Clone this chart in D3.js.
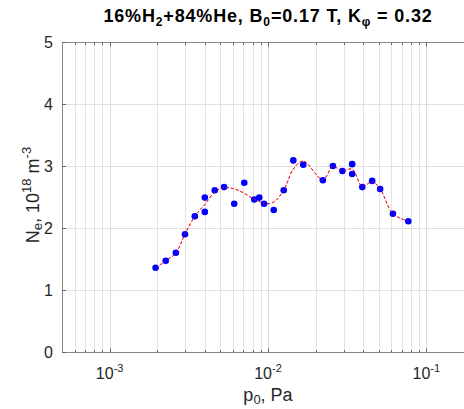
<!DOCTYPE html>
<html>
<head>
<meta charset="utf-8">
<script src="https://cdn.jsdelivr.net/npm/d3@7"></script>
<style>
  body { margin: 0; background: #fff; }
  text { font-family: 'Liberation Sans', Arial, sans-serif; }
</style>
</head>
<body>
<div id="chart"></div>
<script>
// measured points: pressure (Pa) and density (1e18 m^-3)
const pressure = [1.95e-3, 2.26e-3, 2.62e-3, 2.99e-3, 3.45e-3, 3.99e-3, 3.99e-3, 4.61e-3, 5.28e-3,
  6.12e-3, 7.08e-3, 8.19e-3, 8.81e-3, 9.44e-3, 1.087e-2, 1.257e-2, 1.445e-2, 1.67e-2, 2.22e-2,
  2.57e-2, 2.95e-2, 3.40e-2, 3.40e-2, 3.94e-2, 4.55e-2, 5.11e-2, 6.15e-2, 7.69e-2];
const density = [1.36, 1.47, 1.60, 1.90, 2.19, 2.26, 2.49, 2.61, 2.66,
  2.39, 2.73, 2.46, 2.49, 2.39, 2.29, 2.61, 3.09, 3.02, 2.77,
  3.00, 2.92, 3.03, 2.87, 2.66, 2.76, 2.63, 2.23, 2.11];

// smoothed fit (red dashed)
const fitPressure = [1.95e-3, 2.26e-3, 2.62e-3, 2.99e-3, 3.45e-3, 3.99e-3, 4.61e-3, 5.28e-3,
  6.12e-3, 7.08e-3, 8.19e-3, 8.81e-3, 9.44e-3, 1.087e-2, 1.257e-2, 1.445e-2, 1.67e-2, 2.22e-2,
  2.57e-2, 2.95e-2, 3.40e-2, 3.94e-2, 4.55e-2, 5.11e-2, 6.15e-2, 7.69e-2];
const fitDensity = [1.36, 1.47, 1.60, 1.90, 2.19, 2.38, 2.58, 2.65,
  2.63, 2.56, 2.46, 2.43, 2.39, 2.42, 2.61, 2.95, 3.08, 2.78,
  2.99, 2.92, 2.95, 2.67, 2.75, 2.63, 2.23, 2.11];

const yTicks = [0, 1, 2, 3, 4, 5];
const xMajor = [-3, -2, -1]; // exponents

const width = 464;
const height = 409;
const margin = { top: 42, left: 62, bottom: 57 };

const x = d3.scaleLog()
  .domain([5e-4, 0.2])
  .range([margin.left, 474]);

const y = d3.scaleLinear()
  .domain([0, 5])
  .range([height - margin.bottom, margin.top]);

const svg = d3.select('#chart')
  .append('svg')
  .attr('width', width)
  .attr('height', height);

const yTop = y(5);
const yBottom = y(0);
const xRight = x.range()[1];

const allTicks = x.ticks().filter(t => x(t) > margin.left + 0.5);
const isMajor = t => Math.abs(Math.log10(t) - Math.round(Math.log10(t))) < 1e-6;

// grid
svg.append('g')
  .selectAll('line')
  .data(allTicks)
  .enter()
  .append('line')
  .attr('x1', d => Math.round(x(d)) + 0.5)
  .attr('x2', d => Math.round(x(d)) + 0.5)
  .attr('y1', yTop)
  .attr('y2', yBottom)
  .attr('stroke', d => (isMajor(d) ? '#d9d9d9' : '#e3e3e3'))
  .attr('stroke-width', 1);

svg.append('g')
  .selectAll('line')
  .data(yTicks.slice(1, -1))
  .enter()
  .append('line')
  .attr('x1', margin.left)
  .attr('x2', xRight)
  .attr('y1', d => Math.round(y(d)) + 0.5)
  .attr('y2', d => Math.round(y(d)) + 0.5)
  .attr('stroke', '#e0e0e0');

// axes lines
const axisColor = '#8a8a8a';
svg.append('line')
  .attr('x1', margin.left).attr('x2', xRight)
  .attr('y1', yTop + 0.5).attr('y2', yTop + 0.5)
  .attr('stroke', axisColor);
svg.append('line')
  .attr('x1', margin.left).attr('x2', xRight)
  .attr('y1', yBottom + 0.5).attr('y2', yBottom + 0.5)
  .attr('stroke', axisColor);
svg.append('line')
  .attr('x1', margin.left + 0.5).attr('x2', margin.left + 0.5)
  .attr('y1', yTop).attr('y2', yBottom)
  .attr('stroke', axisColor);

// x tick marks, top and bottom, inside
[yTop, yBottom].forEach((base) => {
  const dir = base === yTop ? 1 : -1;
  svg.append('g')
    .selectAll('line')
    .data(allTicks)
    .enter()
    .append('line')
    .attr('x1', d => Math.round(x(d)) + 0.5)
    .attr('x2', d => Math.round(x(d)) + 0.5)
    .attr('y1', base + 0.5)
    .attr('y2', d => base + 0.5 + dir * (isMajor(d) ? 4 : 2.5))
    .attr('stroke', '#666');
});

// y tick marks
svg.append('g')
  .selectAll('line')
  .data(yTicks)
  .enter()
  .append('line')
  .attr('x1', margin.left)
  .attr('x2', margin.left + 4)
  .attr('y1', d => Math.round(y(d)) + 0.5)
  .attr('y2', d => Math.round(y(d)) + 0.5)
  .attr('stroke', '#666');

// y tick labels
svg.append('g')
  .selectAll('text')
  .data(yTicks)
  .enter()
  .append('text')
  .attr('x', margin.left - 9)
  .attr('y', d => y(d) + 6)
  .attr('text-anchor', 'end')
  .attr('font-size', '16px')
  .attr('fill', '#262626')
  .text(d => d);

// x tick labels
const xl = svg.append('g')
  .selectAll('text')
  .data(xMajor)
  .enter()
  .append('text')
  .attr('x', d => x(Math.pow(10, d)))
  .attr('y', 379)
  .attr('text-anchor', 'middle')
  .attr('font-size', '16px')
  .attr('fill', '#262626');
xl.append('tspan').text('10');
xl.append('tspan')
  .attr('dy', -7)
  .attr('font-size', '11px')
  .text(d => d);

// x label
const xt = svg.append('text')
  .attr('x', 268)
  .attr('y', 401)
  .attr('text-anchor', 'middle')
  .attr('font-size', '18px')
  .attr('fill', '#262626');
xt.append('tspan').text('p');
xt.append('tspan').attr('dy', 3).attr('font-size', '13px').text('0');
xt.append('tspan').attr('dy', -3).text(', Pa');

// y label
const yt = svg.append('text')
  .attr('transform', `translate(39, ${(yTop + yBottom) / 2 - 2}) rotate(-90)`)
  .attr('text-anchor', 'middle')
  .attr('font-size', '18px')
  .attr('fill', '#262626');
yt.append('tspan').text('N');
yt.append('tspan').attr('dy', 3).attr('font-size', '13px').text('e');
yt.append('tspan').attr('dy', -3).text(', 10');
yt.append('tspan').attr('dy', -8).attr('font-size', '13px').text('18');
yt.append('tspan').attr('dy', 8).text(' m');
yt.append('tspan').attr('dy', -8).attr('font-size', '13px').text('-3');

// title
const tt = svg.append('text')
  .attr('x', 268)
  .attr('y', 22)
  .attr('text-anchor', 'middle')
  .attr('font-size', '18px')
  .attr('font-weight', 'bold')
  .attr('fill', '#000');
tt.append('tspan').text('16%H');
tt.append('tspan').attr('dy', 4).attr('font-size', '12px').text('2');
tt.append('tspan').attr('dy', -4).text('+84%He, B');
tt.append('tspan').attr('dy', 4).attr('font-size', '12px').text('0');
tt.append('tspan').attr('dy', -4).text('=0.17 T, K');
tt.append('tspan').attr('dy', 4).attr('font-size', '12px').text('\u03c6');
tt.append('tspan').attr('dy', -4).text(' = 0.32');

// stretch title to the width it has in the reference (~330px)
const tw = tt.node().getComputedTextLength();
if (tw > 0) tt.attr('letter-spacing', `${Math.max(0, (330 - tw) / 34)}px`);

// fit curve
const fitData = fitPressure.map((p, i) => [p, fitDensity[i]]);
const fitLine = d3.line()
  .curve(d3.curveCatmullRom)
  .x(d => x(d[0]))
  .y(d => y(d[1]));

svg.append('path')
  .datum(fitData)
  .attr('fill', 'none')
  .attr('stroke', '#e8141e')
  .attr('stroke-width', 1)
  .attr('stroke-dasharray', '3,2')
  .attr('d', fitLine);

// points
svg.append('g')
  .selectAll('circle')
  .data(pressure.map((p, i) => [p, density[i]]))
  .enter()
  .append('circle')
  .attr('cx', d => x(d[0]))
  .attr('cy', d => y(d[1]))
  .attr('r', 3.3)
  .attr('fill', '#0000ff');

// dashes show faintly through the points in the reference
svg.append('path')
  .datum(fitData)
  .attr('fill', 'none')
  .attr('stroke', '#e8141e')
  .attr('stroke-opacity', 0.6)
  .attr('stroke-width', 1)
  .attr('stroke-dasharray', '3,2')
  .attr('d', fitLine);
</script>
</body>
</html>
